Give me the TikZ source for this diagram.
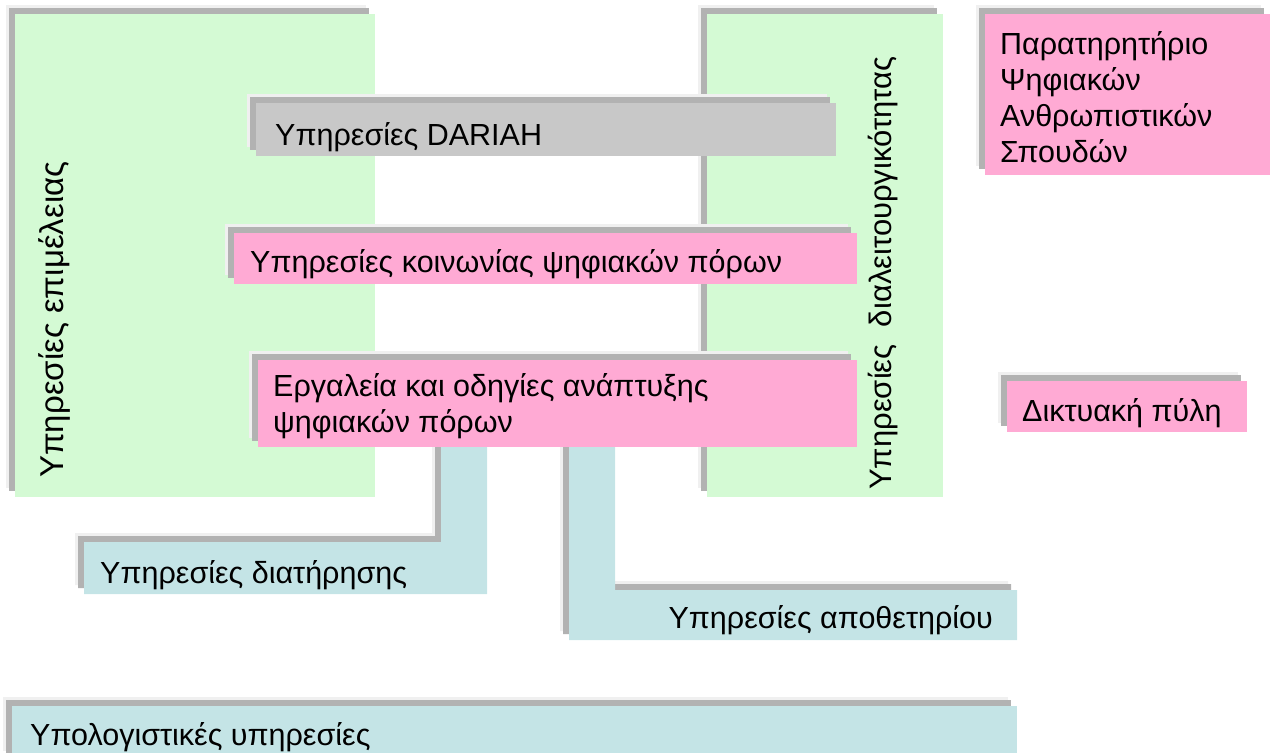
\documentclass[tikz,border=0pt]{standalone}
\usepackage{fontspec}
\setmainfont{Liberation Sans}
\definecolor{curagreen}{HTML}{D4FAD4}
\definecolor{svcpink}{HTML}{FFAAD4}
\definecolor{dariahgray}{HTML}{C8C8C8}
\definecolor{storeblue}{HTML}{C4E4E6}
\tikzset{
  haze/.style={fill=black!6},
  umbra/.style={fill=black!30},
  boxtext/.style={font=\fontsize{30.5}{36}\selectfont, inner sep=0pt, anchor=base west, align=left}
}
% a filled shape with its soft shadow up and to the left
\newcommand{\shadedshape}[2]{%
  \fill[haze,shift={(-9,-9)}] #2;
  \fill[umbra,shift={(-6,-6)}] #2;
  \fill[#1] #2;}
\begin{document}
\begin{tikzpicture}[x=1pt,y=-1pt]
		\useasboundingbox (0,0) rectangle (1276,752);
		% columns
		\shadedshape{curagreen}{(15,14) rectangle (375,497)}
		\shadedshape{curagreen}{(707,14) rectangle (943,497)}
		% storage layers
		\shadedshape{storeblue}{(84,542) -- (441,542) -- (441,440) -- (487,440) -- (487,594) -- (84,594) -- cycle}
		\shadedshape{storeblue}{(569,440) -- (615,440) -- (615,590) -- (1017,590) -- (1017,640) -- (569,640) -- cycle}
		% services
		\shadedshape{dariahgray}{(256,103) rectangle (836,156)}
		\shadedshape{svcpink}{(234,233) rectangle (857,284)}
		\shadedshape{svcpink}{(258,360) rectangle (857,447)}
		\shadedshape{svcpink}{(985,14) rectangle (1270,175)}
		\shadedshape{svcpink}{(1007,381) rectangle (1247,432)}
		\shadedshape{storeblue}{(12,706) rectangle (1017,760)}
		% texts
		\node[boxtext, rotate=90, font=\fontsize{33}{36}\selectfont] (curation) at (63,478) {Υπηρεσίες επιμέλειας};
		\node[boxtext, rotate=90, font=\fontsize{31}{36}\selectfont] (interop) at (891,490) {Υπηρεσίες\ \ διαλειτουργικότητας};
		\node[boxtext] (dariah) at (275,145) {Υπηρεσίες DARIAH};
		\node[boxtext] (community) at (250,272) {Υπηρεσίες κοινωνίας ψηφιακών πόρων};
		\node[boxtext] (tools) at (273,432) {Εργαλεία και οδηγίες ανάπτυξης\\ψηφιακών πόρων};
		\node[boxtext] (preserve) at (100,583) {Υπηρεσίες διατήρησης};
		\node[boxtext, anchor=base east] (repo) at (993,628) {Υπηρεσίες αποθετηρίου};
		\node[boxtext] (compute) at (30,745) {Υπολογιστικές υπηρεσίες};
		\node[boxtext] (observ) at (1000,162) {Παρατηρητήριο\\Ψηφιακών\\Ανθρωπιστικών\\Σπουδών};
		\node[boxtext] (portal) at (1022,421) {Δικτυακή πύλη};
\end{tikzpicture}
\end{document}
